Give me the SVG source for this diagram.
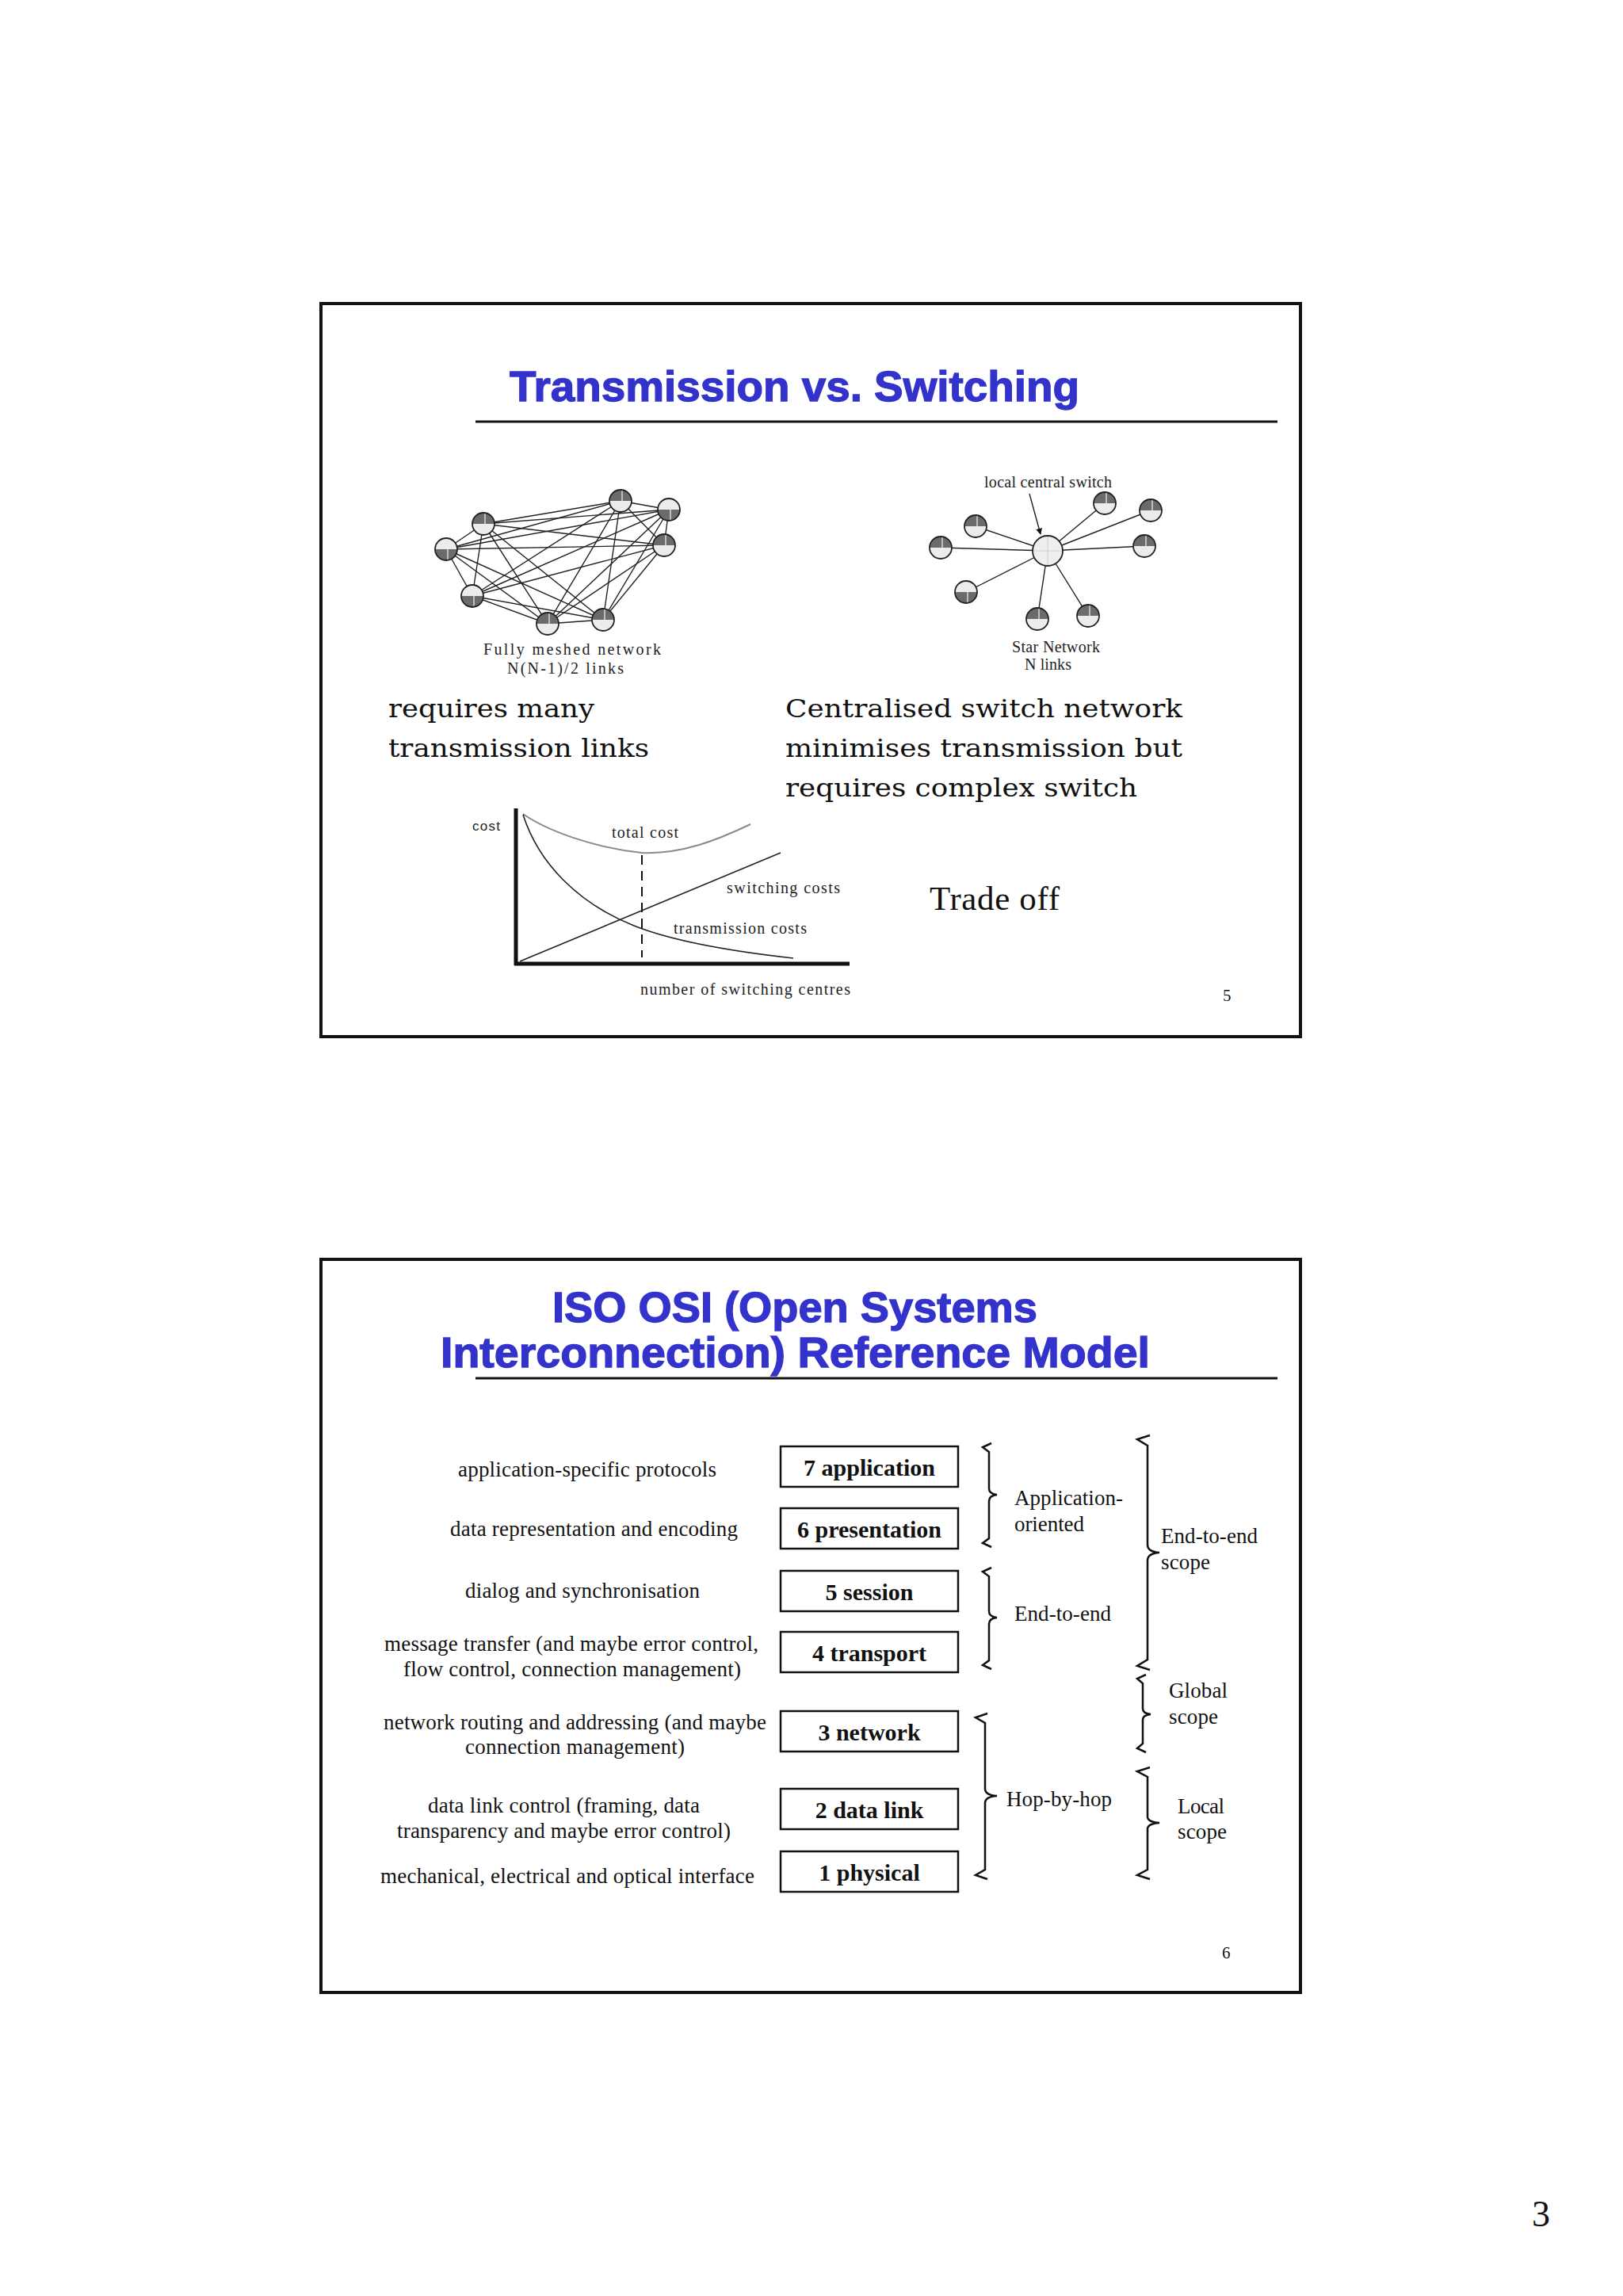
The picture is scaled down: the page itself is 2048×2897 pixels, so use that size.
<svg xmlns="http://www.w3.org/2000/svg" xmlns:xlink="http://www.w3.org/1999/xlink" width="2048" height="2897" viewBox="0 0 2048 2897">
<style>
.frame{fill:none;stroke:#111;stroke-width:4}
.rule{stroke:#111;stroke-width:3}
.title{font-family:"Liberation Sans",Arial,sans-serif;font-weight:bold;font-size:54px;fill:#3333cc;stroke:#3333cc;stroke-width:1.3}
.body{font-family:"DejaVu Serif","Liberation Serif",serif;font-size:32px;fill:#111}
.small{font-family:"Liberation Serif","Times New Roman",serif;font-size:20px;fill:#222}
.sans{font-family:"Liberation Sans",Arial,sans-serif;font-size:17px;fill:#222}
.desc{font-family:"Liberation Serif","Times New Roman",serif;font-size:27px;fill:#111}
.layer{font-family:"Liberation Serif","Times New Roman",serif;font-size:30px;font-weight:bold;fill:#111;text-anchor:middle}
.box{fill:#fff;stroke:#111;stroke-width:2.5}
.edge{stroke:#222;stroke-width:1.4}
.brace{fill:none;stroke:#111;stroke-width:2.5;stroke-linejoin:miter}
.pg{font-family:"Liberation Serif","Times New Roman",serif;fill:#111}
</style>
<defs>
<g id="icoT">
<circle r="14" fill="#ececec"/>
<path d="M-14 0 A14 14 0 0 1 14 0 Z" fill="#6b6b6b"/>
<line x1="2" y1="-14" x2="2" y2="0" stroke="#d8d8d8" stroke-width="1.5"/>
<circle r="14" fill="none" stroke="#222" stroke-width="1.8"/>
</g>
<marker id="arr" viewBox="0 0 10 10" refX="9" refY="5" markerWidth="8" markerHeight="8" orient="auto" markerUnits="userSpaceOnUse">
<path d="M0 0 L10 5 L0 10 Z" fill="#111"/>
</marker>
</defs>
<rect width="2048" height="2897" fill="#fff"/>

<!-- Slide 1 -->
<g id="slide1">
<rect class="frame" x="405" y="383" width="1236" height="925"/>
<text class="title" x="643" y="506" textLength="719" lengthAdjust="spacingAndGlyphs">Transmission vs. Switching</text>
<line class="rule" x1="600" y1="532" x2="1612" y2="532"/>
</g>

<g id="connectors">
<g id="mesh-links">
<line class="edge" x1="610" y1="661" x2="563" y2="693"/>
<line class="edge" x1="610" y1="661" x2="596" y2="752"/>
<line class="edge" x1="610" y1="661" x2="691" y2="787"/>
<line class="edge" x1="610" y1="661" x2="761" y2="782"/>
<line class="edge" x1="610" y1="661" x2="838" y2="688"/>
<line class="edge" x1="610" y1="661" x2="844" y2="643"/>
<line class="edge" x1="610" y1="661" x2="783" y2="632"/>
<line class="edge" x1="563" y1="693" x2="596" y2="752"/>
<line class="edge" x1="563" y1="693" x2="691" y2="787"/>
<line class="edge" x1="563" y1="693" x2="761" y2="782"/>
<line class="edge" x1="563" y1="693" x2="838" y2="688"/>
<line class="edge" x1="563" y1="693" x2="844" y2="643"/>
<line class="edge" x1="563" y1="693" x2="783" y2="632"/>
<line class="edge" x1="596" y1="752" x2="691" y2="787"/>
<line class="edge" x1="596" y1="752" x2="761" y2="782"/>
<line class="edge" x1="596" y1="752" x2="838" y2="688"/>
<line class="edge" x1="596" y1="752" x2="844" y2="643"/>
<line class="edge" x1="596" y1="752" x2="783" y2="632"/>
<line class="edge" x1="691" y1="787" x2="761" y2="782"/>
<line class="edge" x1="691" y1="787" x2="838" y2="688"/>
<line class="edge" x1="691" y1="787" x2="844" y2="643"/>
<line class="edge" x1="691" y1="787" x2="783" y2="632"/>
<line class="edge" x1="761" y1="782" x2="838" y2="688"/>
<line class="edge" x1="761" y1="782" x2="844" y2="643"/>
<line class="edge" x1="761" y1="782" x2="783" y2="632"/>
<line class="edge" x1="838" y1="688" x2="844" y2="643"/>
<line class="edge" x1="838" y1="688" x2="783" y2="632"/>
<line class="edge" x1="844" y1="643" x2="783" y2="632"/>
</g>
<g id="star-links">
<line class="edge" x1="1322" y1="695" x2="1231" y2="664"/>
<line class="edge" x1="1322" y1="695" x2="1187" y2="691"/>
<line class="edge" x1="1322" y1="695" x2="1219" y2="747"/>
<line class="edge" x1="1322" y1="695" x2="1309" y2="781"/>
<line class="edge" x1="1322" y1="695" x2="1373" y2="777"/>
<line class="edge" x1="1322" y1="695" x2="1444" y2="689"/>
<line class="edge" x1="1322" y1="695" x2="1452" y2="644"/>
<line class="edge" x1="1322" y1="695" x2="1394" y2="635"/>
<line class="edge" x1="1299" y1="623" x2="1313" y2="674" marker-end="url(#arr)"/>
</g>
</g>

<g id="mesh-nodes">
<use id="mA" xlink:href="#icoT" href="#icoT" transform="translate(610,661)"/>
<use id="mB" xlink:href="#icoT" href="#icoT" transform="translate(563,693) scale(1,-1)"/>
<use id="mC" xlink:href="#icoT" href="#icoT" transform="translate(596,752) scale(1,-1)"/>
<use id="mD" xlink:href="#icoT" href="#icoT" transform="translate(691,787)"/>
<use id="mE" xlink:href="#icoT" href="#icoT" transform="translate(761,782)"/>
<use id="mF" xlink:href="#icoT" href="#icoT" transform="translate(838,688)"/>
<use id="mG" xlink:href="#icoT" href="#icoT" transform="translate(844,643) scale(1,-1)"/>
<use id="mH" xlink:href="#icoT" href="#icoT" transform="translate(783,632)"/>
<text class="small" x="610" y="826" textLength="224" lengthAdjust="spacing">Fully meshed network</text>
<text class="small" x="640" y="850" textLength="147" lengthAdjust="spacing">N(N-1)/2 links</text>
</g>

<g id="star-nodes">
<g id="hub">
<circle cx="1322" cy="695" r="19" fill="#efefef" stroke="#222" stroke-width="1.8"/>
<line x1="1322" y1="677" x2="1322" y2="713" stroke="#d0d0d0" stroke-width="1.2"/>
<line x1="1304" y1="695" x2="1340" y2="695" stroke="#d0d0d0" stroke-width="1.2"/>
</g>
<use id="s1" xlink:href="#icoT" href="#icoT" transform="translate(1231,664)"/>
<use id="s2" xlink:href="#icoT" href="#icoT" transform="translate(1187,691)"/>
<use id="s3" xlink:href="#icoT" href="#icoT" transform="translate(1219,747) scale(1,-1)"/>
<use id="s4" xlink:href="#icoT" href="#icoT" transform="translate(1309,781)"/>
<use id="s5" xlink:href="#icoT" href="#icoT" transform="translate(1373,777)"/>
<use id="s6" xlink:href="#icoT" href="#icoT" transform="translate(1444,689)"/>
<use id="s7" xlink:href="#icoT" href="#icoT" transform="translate(1452,644)"/>
<use id="s8" xlink:href="#icoT" href="#icoT" transform="translate(1394,635)"/>
<text class="small" x="1242" y="615" font-size="18" textLength="161" lengthAdjust="spacing">local central switch</text>
<text class="small" x="1277" y="823" font-size="19" textLength="111" lengthAdjust="spacing">Star Network</text>
<text class="small" x="1293" y="845" font-size="19" textLength="59" lengthAdjust="spacing">N links</text>
</g>

<g id="body-text">
<text class="body" x="490" y="905" textLength="260" lengthAdjust="spacingAndGlyphs">requires many</text>
<text class="body" x="490" y="955" textLength="329" lengthAdjust="spacingAndGlyphs">transmission links</text>
<text class="body" x="991" y="905" textLength="501" lengthAdjust="spacingAndGlyphs">Centralised switch network</text>
<text class="body" x="991" y="955" textLength="501" lengthAdjust="spacingAndGlyphs">minimises transmission but</text>
<text class="body" x="991" y="1005" textLength="444" lengthAdjust="spacingAndGlyphs">requires complex switch</text>
</g>

<g id="cost-graph">
<line x1="651" y1="1020" x2="651" y2="1218" stroke="#111" stroke-width="5"/>
<line x1="649" y1="1216" x2="1072" y2="1216" stroke="#111" stroke-width="5"/>
<path d="M660 1027 C690 1048 750 1070 810 1076 C860 1078 905 1060 947 1040" fill="none" stroke="#8a8a8a" stroke-width="2"/>
<path d="M660 1028 C680 1090 730 1140 800 1168 C850 1188 920 1200 1001 1209" fill="none" stroke="#222" stroke-width="1.6"/>
<line x1="656" y1="1213" x2="985" y2="1076" stroke="#222" stroke-width="1.6"/>
<line x1="810" y1="1079" x2="810" y2="1208" stroke="#111" stroke-width="2" stroke-dasharray="12 8"/>
<text class="sans" x="596" y="1048" textLength="35" lengthAdjust="spacing">cost</text>
<text class="small" x="772" y="1057" textLength="84" lengthAdjust="spacing">total cost</text>
<text class="small" x="917" y="1127" textLength="143" lengthAdjust="spacing">switching costs</text>
<text class="small" x="850" y="1178" textLength="168" lengthAdjust="spacing">transmission costs</text>
<text class="small" x="808" y="1255" textLength="265" lengthAdjust="spacing">number of switching centres</text>
</g>
<text class="pg" x="1173" y="1148" font-size="43" textLength="164" lengthAdjust="spacing">Trade off</text>
<text class="pg" x="1543" y="1263" font-size="21">5</text>

<!-- Slide 2 -->
<g id="slide2">
<rect class="frame" x="405" y="1589" width="1236" height="925"/>
<text class="title" x="697" y="1668" textLength="612" lengthAdjust="spacingAndGlyphs">ISO OSI (Open Systems</text>
<text class="title" x="556" y="1725" textLength="895" lengthAdjust="spacingAndGlyphs">Interconnection) Reference Model</text>
<line class="rule" x1="600" y1="1739" x2="1612" y2="1739"/>
</g>

<g id="layer7"><rect class="box" x="985" y="1825" width="224" height="51"/><text class="layer" x="1097" y="1862">7 application</text></g>
<g id="layer6"><rect class="box" x="985" y="1903" width="224" height="51"/><text class="layer" x="1097" y="1940">6 presentation</text></g>
<g id="layer5"><rect class="box" x="985" y="1982" width="224" height="51"/><text class="layer" x="1097" y="2019">5 session</text></g>
<g id="layer4"><rect class="box" x="985" y="2059" width="224" height="51"/><text class="layer" x="1097" y="2096">4 transport</text></g>
<g id="layer3"><rect class="box" x="985" y="2159" width="224" height="51"/><text class="layer" x="1097" y="2196">3 network</text></g>
<g id="layer2"><rect class="box" x="985" y="2257" width="224" height="51"/><text class="layer" x="1097" y="2294">2 data link</text></g>
<g id="layer1"><rect class="box" x="985" y="2336" width="224" height="51"/><text class="layer" x="1097" y="2373">1 physical</text></g>

<g id="descriptions">
<text class="desc" x="578" y="1863" textLength="326" lengthAdjust="spacing">application-specific protocols</text>
<text class="desc" x="568" y="1938" textLength="363" lengthAdjust="spacing">data representation and encoding</text>
<text class="desc" x="587" y="2016" textLength="296" lengthAdjust="spacing">dialog and synchronisation</text>
<text class="desc" x="485" y="2083" textLength="472" lengthAdjust="spacing">message transfer (and maybe error control,</text>
<text class="desc" x="509" y="2115" textLength="426" lengthAdjust="spacing">flow control, connection management)</text>
<text class="desc" x="484" y="2182" textLength="483" lengthAdjust="spacing">network routing and addressing (and maybe</text>
<text class="desc" x="587" y="2213" textLength="277" lengthAdjust="spacing">connection management)</text>
<text class="desc" x="540" y="2287" textLength="343" lengthAdjust="spacing">data link control (framing, data</text>
<text class="desc" x="501" y="2319" textLength="421" lengthAdjust="spacing">transparency and maybe error control)</text>
<text class="desc" x="480" y="2376" textLength="472" lengthAdjust="spacing">mechanical, electrical and optical interface</text>
</g>

<g id="braces">
<path class="brace" d="M1251 1821 L1240 1826 L1248 1832 L1248 1878 Q1248 1885 1258 1886 Q1248 1887 1248 1894 L1248 1941 L1240 1947 L1251 1952"/>
<path class="brace" d="M1251 1978 L1240 1983 L1248 1989 L1248 2033 Q1248 2040 1258 2041 Q1248 2042 1248 2049 L1248 2095 L1240 2101 L1251 2106"/>
<path class="brace" d="M1246 2162 L1231 2167 L1243 2174 L1243 2257 Q1243 2265 1258 2266 Q1243 2267 1243 2275 L1243 2359 L1231 2366 L1246 2371"/>
<path class="brace" d="M1451 1811 L1435 1816 L1448 1824 L1448 1949 Q1448 1958 1463 1959 Q1448 1960 1448 1969 L1448 2094 L1435 2102 L1451 2107"/>
<path class="brace" d="M1446 2113 L1435 2118 L1442 2124 L1442 2156 Q1442 2162 1452 2163 Q1442 2164 1442 2170 L1442 2200 L1435 2206 L1446 2211"/>
<path class="brace" d="M1451 2230 L1435 2235 L1448 2242 L1448 2292 Q1448 2299 1463 2300 Q1448 2301 1448 2308 L1448 2359 L1435 2366 L1451 2371"/>
</g>

<g id="scope-labels">
<text class="desc" x="1280" y="1899" textLength="137" lengthAdjust="spacing">Application-</text>
<text class="desc" x="1280" y="1932" textLength="88" lengthAdjust="spacing">oriented</text>
<text class="desc" x="1280" y="2045" textLength="122" lengthAdjust="spacing">End-to-end</text>
<text class="desc" x="1465" y="1947" textLength="122" lengthAdjust="spacing">End-to-end</text>
<text class="desc" x="1465" y="1980" textLength="62" lengthAdjust="spacing">scope</text>
<text class="desc" x="1475" y="2142" textLength="74" lengthAdjust="spacing">Global</text>
<text class="desc" x="1475" y="2175" textLength="62" lengthAdjust="spacing">scope</text>
<text class="desc" x="1270" y="2279" textLength="133" lengthAdjust="spacing">Hop-by-hop</text>
<text class="desc" x="1486" y="2288" textLength="59" lengthAdjust="spacing">Local</text>
<text class="desc" x="1486" y="2320" textLength="62" lengthAdjust="spacing">scope</text>
</g>
<text class="pg" x="1542" y="2471" font-size="21">6</text>
<text class="pg" x="1933" y="2809" font-size="46">3</text>
</svg>
